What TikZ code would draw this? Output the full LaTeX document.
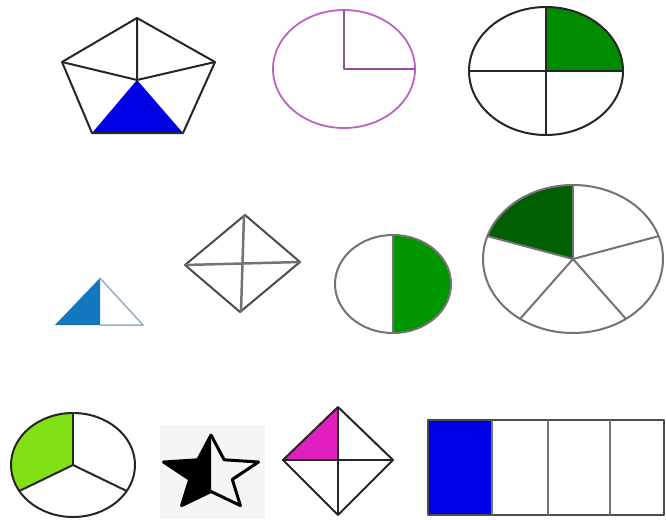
\documentclass[tikz,border=0pt]{standalone}
\begin{document}
\begin{tikzpicture}[x=1pt,y=-1pt,line join=round,
  blk/.style={draw=black!85,line width=2pt},
  gry/.style={draw=black!55,line width=2pt}]
\definecolor{pblue}{RGB}{0,0,230}
\definecolor{pink1}{RGB}{185,100,190}
\definecolor{grn1}{RGB}{0,140,0}
\definecolor{grn2}{RGB}{0,150,0}
\definecolor{grn3}{RGB}{0,95,0}
\definecolor{lime}{RGB}{130,225,20}
\definecolor{tblue}{RGB}{20,120,190}
\definecolor{mag}{RGB}{225,30,190}
\useasboundingbox (0,0) rectangle (666,519);
\fill[white] (0,0) rectangle (666,519);

% pentagon
\coordinate (pT) at (137,18); \coordinate (pL) at (62,62); \coordinate (pR) at (215,62);
\coordinate (pBL) at (92,133); \coordinate (pBR) at (183,133); \coordinate (pC) at (137,80);
\fill[pblue] (pC) -- (pBL) -- (pBR) -- cycle;
\draw[blk] (pT) -- (pR) -- (pBR) -- (pBL) -- (pL) -- cycle;
\draw[blk] (pC) -- (pT) (pC) -- (pL) (pC) -- (pR);

% pink ellipse
\coordinate (e1) at (344,69);
\draw[pink1,line width=1.8pt] (e1) ellipse [x radius=71, y radius=59];
\draw[pink1!80!black,line width=1.8pt] (344,11) -- (e1) -- (415,69);

% green quadrant ellipse
\coordinate (e2) at (546,71);
\fill[grn1] (e2) -- (623,71) arc[start angle=0,end angle=-90,x radius=77,y radius=64] -- cycle;
\draw[blk] (e2) ellipse [x radius=77, y radius=64];
\draw[blk] (469,71) -- (623,71) (546,7) -- (546,135);

% small triangle
\coordinate (tA) at (100,278); \coordinate (tL) at (55,325); \coordinate (tR) at (143,325); \coordinate (tM) at (100,325);
\fill[tblue] (tA) -- (tL) -- (tM) -- cycle;
\draw[tblue!50!gray!60,line width=1.5pt] (tA) -- (tR) -- (tM);

% gray diamond
\coordinate (dT) at (245,215); \coordinate (dL) at (185,265); \coordinate (dR) at (300,262); \coordinate (dB) at (240,312);
\draw[blk,draw=black!70] (dT) -- (dR) -- (dB) -- (dL) -- cycle;
\draw[line width=2.5pt,black!55] (244,215) -- (241,312) (185,265) -- (300,262);

% half ellipse
\coordinate (e3) at (393,284);
\fill[grn2] (393,235) arc[start angle=-90,end angle=90,x radius=58,y radius=49] -- cycle;
\draw[gry] (e3) ellipse [x radius=58, y radius=49];
\draw[gry] (393,235) -- (393,333);

% five-part ellipse
\coordinate (e4) at (573,259);
\fill[grn3] (e4) -- (573,185) arc[start angle=-90,end angle=-162,x radius=90,y radius=74] -- cycle;
\draw[gry] (e4) ellipse [x radius=90, y radius=74];
\foreach \a in {90,162,234,306,18}
  \draw[gry] (e4) -- ++({90*cos(\a)},{-74*sin(\a)});

% three-part circle
\coordinate (e5) at (73,465);
\fill[lime] (e5) -- (73,413) arc[start angle=-90,end angle=-210,x radius=62,y radius=52] -- cycle;
\draw[blk] (e5) ellipse [x radius=62, y radius=52];
\foreach \a in {90,210,330}
  \draw[blk] (e5) -- ++({62*cos(\a)},{-52*sin(\a)});

% star
\fill[black!4] (160,425) rectangle (265,519);
\begin{scope}
\clip (150,420) rectangle (211,519);
\fill[black] (211,435) -- (197.8,459.8) -- (163.5,462) -- (189.7,479.4) -- (181.6,505.6)
  -- (211,491.5) -- (240.4,505.6) -- (232.3,479.4) -- (258.5,462) -- (224.2,459.8) -- cycle;
\end{scope}
\draw[black,line width=3pt] (211,435) -- (197.8,459.8) -- (163.5,462) -- (189.7,479.4) -- (181.6,505.6)
  -- (211,491.5) -- (240.4,505.6) -- (232.3,479.4) -- (258.5,462) -- (224.2,459.8) -- cycle;

% magenta diamond
\coordinate (mT) at (338,407); \coordinate (mL) at (283,460); \coordinate (mR) at (393,460);
\coordinate (mB) at (338,515); \coordinate (mC) at (338,460);
\fill[mag] (mT) -- (mL) -- (mC) -- cycle;
\draw[blk] (mT) -- (mR) -- (mB) -- (mL) -- cycle;
\draw[blk] (mT) -- (mB) (mL) -- (mR);

% bar
\fill[pblue] (428,420) rectangle (492,515);
\draw[blk,draw=black!70] (428,420) rectangle (664,515);
\draw[line width=2.5pt,black!55] (492,420) -- (492,515) (548,420) -- (548,515) (610,420) -- (610,515);
\end{tikzpicture}
\end{document}
